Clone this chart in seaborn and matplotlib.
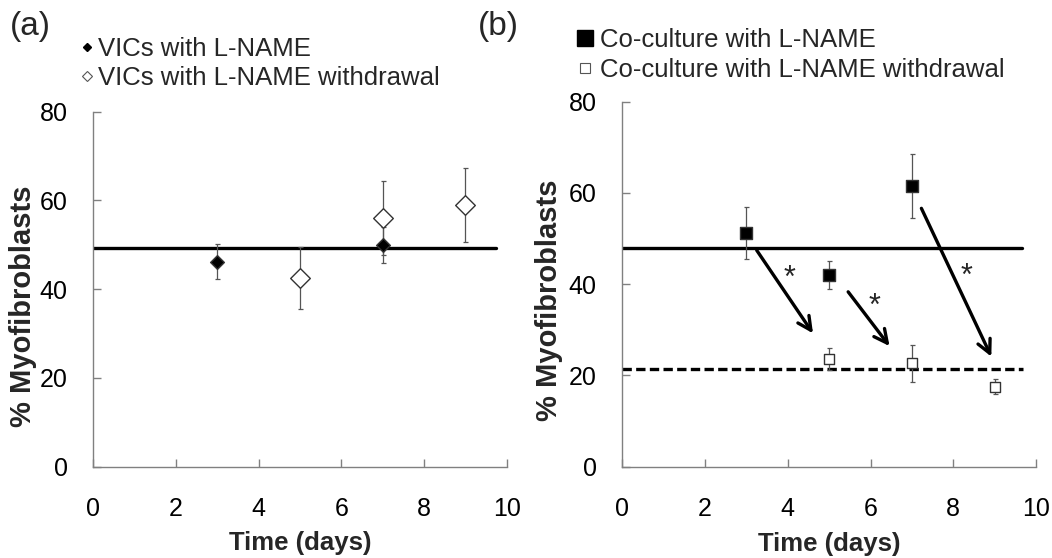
"""
Myofibroblast percentage over time, with and without L-NAME.
Two panels: (a) VICs alone, (b) co-culture.
"""

import matplotlib
matplotlib.use('Agg')
import matplotlib.pyplot as plt
from matplotlib.lines import Line2D
import seaborn as sns
import pandas as pd

# panel (a): VICs
days_a_lname = [3, 7]
pct_a_lname = [46.2, 49.9]
err_a_lname = [4.0, 4.1]
days_a_wd = [5, 7, 9]
pct_a_wd = [42.6, 56.0, 59.0]
err_a_wd = [7.0, 8.3, 8.4]
mean_a = 49.3

# panel (b): co-culture
days_b_lname = [3, 5, 7]
pct_b_lname = [51.2, 42.0, 61.5]
err_b_lname = [5.6, 3.0, 7.0]
days_b_wd = [5, 7, 9]
pct_b_wd = [23.5, 22.6, 17.5]
err_b_wd = [2.4, 4.0, 1.6]
mean_b_lname = 48.0
mean_b_wd = 21.4

# significance arrows in panel (b): start, end, star position
arrow_start = [(3.25, 47.4), (5.46, 38.3), (7.23, 56.6)]
arrow_end = [(4.61, 29.2), (6.46, 26.4), (8.92, 24.1)]
star_pos = [(4.05, 41.2), (6.10, 35.0), (8.32, 41.6)]

x_ticks = [0, 2, 4, 6, 8, 10]
y_ticks = [0, 20, 40, 60, 80]

labels_a = ['VICs with L-NAME', 'VICs with L-NAME withdrawal']
labels_b = ['Co-culture with L-NAME', 'Co-culture with L-NAME withdrawal']

sns.set_style('ticks')
plt.rcParams['font.family'] = ['Liberation Sans', 'DejaVu Sans']

GRAY = '#808080'
ERR = '#555555'

fig = plt.figure(figsize=(10.52, 5.58), dpi=100)
ax_a = fig.add_axes([0.0887, 0.1636, 0.393, 0.6362])
ax_b = fig.add_axes([0.5915, 0.1638, 0.3933, 0.6542])


def style_axes(ax, ylab_x, ylab_y):
    ax.set_xlim(0, 10)
    ax.set_ylim(0, 80)
    ax.set_xticks(x_ticks)
    ax.set_yticks(y_ticks)
    sns.despine(ax=ax)
    for side in ['left', 'bottom']:
        ax.spines[side].set_color(GRAY)
        ax.spines[side].set_linewidth(1.0)
    ax.tick_params(direction='in', length=6, width=1, color=GRAY,
                   labelsize=18, labelcolor='black')
    ax.tick_params(axis='x', pad=22)
    ax.tick_params(axis='y', pad=18.5)
    ax.set_xlabel('Time (days)', fontsize=18.5, fontweight='bold')
    ax.set_ylabel('% Myofibroblasts', fontsize=21, fontweight='bold')
    ax.xaxis.set_label_coords(0.5, -0.18)
    ax.yaxis.set_label_coords(ylab_x, ylab_y)


def draw_points(ax, days, pct, err, marker, size, face):
    ax.errorbar(days, pct, yerr=err, fmt='none', ecolor=ERR,
                elinewidth=0.9, capsize=1.8, capthick=0.9, zorder=2)
    df = pd.DataFrame({'day': days, 'pct': pct})
    sns.scatterplot(data=df, x='day', y='pct', ax=ax, marker=marker,
                    s=size ** 2, color=face, edgecolor='#333333',
                    linewidth=1.0, zorder=3, legend=False)


# ---- panel (a)
ax_a.plot([0, 9.75], [mean_a, mean_a], color='black', lw=2.4, zorder=1)
draw_points(ax_a, days_a_wd, pct_a_wd, err_a_wd, 'D', 10, 'white')
draw_points(ax_a, days_a_lname, pct_a_lname, err_a_lname, 'D', 7, 'black')
style_axes(ax_a, -0.136, 0.453)

handles_a = [
    Line2D([], [], ls='none', marker='D', ms=4.5, mfc='black', mec='black'),
    Line2D([], [], ls='none', marker='D', ms=5.5, mfc='white', mec='#555555', mew=0.8),
]
ax_a.legend(handles_a, labels_a, loc='upper left', bbox_to_anchor=(0.063, 0.957),
            bbox_transform=fig.transFigure, frameon=False, fontsize=18.5,
            handlelength=0.6, handletextpad=0.15, labelspacing=0.2, borderpad=0)

# ---- panel (b)
ax_b.plot([0, 9.67], [mean_b_lname, mean_b_lname], color='black', lw=2.4, zorder=1)
ax_b.plot([0.0, 9.69], [mean_b_wd, mean_b_wd], color='black', lw=2.4,
          ls=(0, (2.8, 1.3)), zorder=1)
draw_points(ax_b, days_b_lname, pct_b_lname, err_b_lname, 's', 9, 'black')
draw_points(ax_b, days_b_wd, pct_b_wd, err_b_wd, 's', 7, 'white')

for start, end in zip(arrow_start, arrow_end):
    ax_b.annotate('', xy=end, xytext=start,
                  arrowprops=dict(arrowstyle='->', lw=2.4, color='black',
                                  mutation_scale=24, shrinkA=0, shrinkB=0))
for sx, sy in star_pos:
    ax_b.text(sx, sy, '*', fontsize=22, ha='center', va='center')
style_axes(ax_b, -0.143, 0.456)

handles_b = [
    Line2D([], [], ls='none', marker='s', ms=11, mfc='black', mec='black'),
    Line2D([], [], ls='none', marker='s', ms=6.5, mfc='white', mec='#555555', mew=0.8),
]
ax_b.legend(handles_b, labels_b, loc='upper left', bbox_to_anchor=(0.5345, 0.972),
            bbox_transform=fig.transFigure, frameon=False, fontsize=18.5,
            handlelength=0.8, handletextpad=0.15, labelspacing=0.2, borderpad=0)

fig.text(0.0285, 0.952, '(a)', fontsize=24, ha='center', va='center')
fig.text(0.474, 0.952, '(b)', fontsize=24, ha='center', va='center')

plt.savefig('out.png', dpi=100)
